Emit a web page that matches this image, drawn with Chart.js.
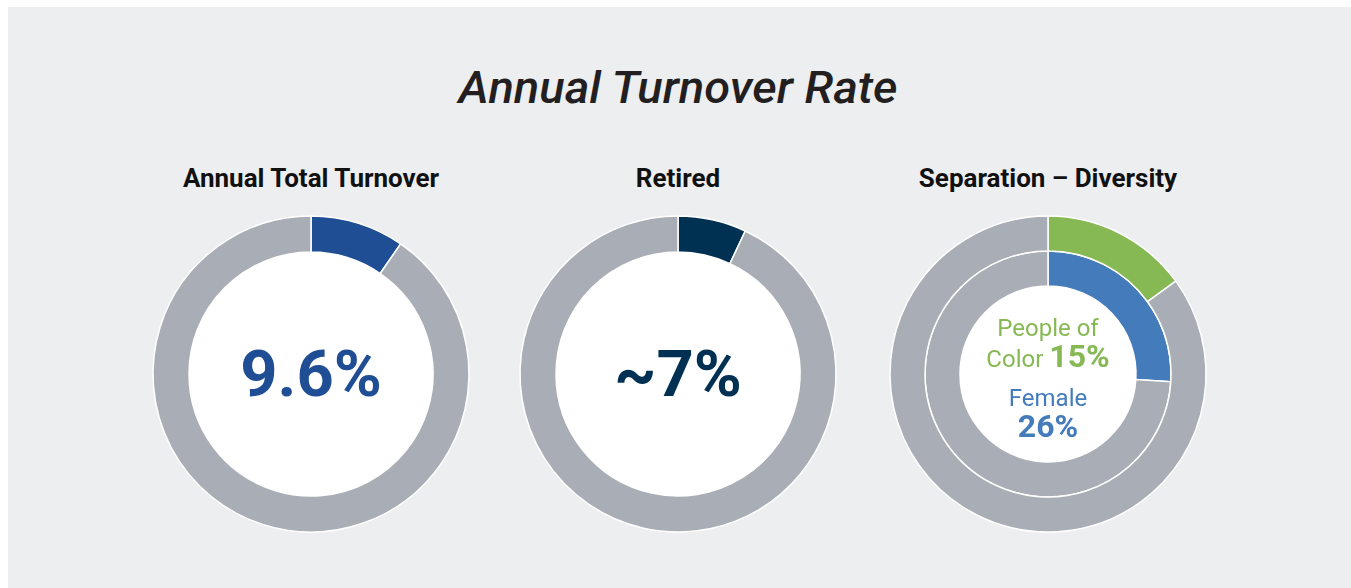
<!DOCTYPE html>
<html>
<head>
<meta charset="utf-8">
<script src="https://cdn.jsdelivr.net/npm/chart.js@4/dist/chart.umd.min.js"></script>
<style>
  html, body { margin: 0; padding: 0; background: #ffffff; }
  body { width: 1351px; height: 588px; position: relative; overflow: hidden; font-family: Roboto, "Noto Sans", sans-serif; }
  #panel { position: absolute; left: 8px; top: 7px; width: 1343px; height: 581px; background: #edeef0; }
  .abs { position: absolute; white-space: nowrap; line-height: 1; }
  .ctr { transform: translateX(-50%); text-align: center; }
  canvas.donut { position: absolute; }
  #title { left: 678px; top: 66px; font-size: 44px; font-style: italic; font-weight: 500; color: #231f20;
           transform: translateX(-50%) scaleX(1.07); }
  .sub { top: 165px; font-size: 26px; font-weight: 700; color: #111111; }
  .big { top: 342px; font-size: 65px; font-weight: 700; }
</style>
</head>
<body>
<div id="panel"></div>
<div id="title" class="abs">Annual Turnover Rate</div>

<div class="abs ctr sub" style="left:311px">Annual Total Turnover</div>
<div class="abs ctr sub" style="left:678px">Retired</div>
<div class="abs ctr sub" style="left:1048px">Separation – Diversity</div>

<canvas id="c1" class="donut" width="340" height="340" style="left:141px;top:204px"></canvas>
<canvas id="c2" class="donut" width="340" height="340" style="left:508px;top:204px"></canvas>
<canvas id="c3" class="donut" width="340" height="340" style="left:878px;top:204px"></canvas>

<div id="v1" class="abs ctr big" style="left:311px;color:#1f4e94"></div>
<div id="v2" class="abs ctr big" style="left:678px;color:#003153"></div>

<div class="abs ctr" style="left:1048px;top:315.8px;font-size:24px;color:#86b854">People of</div>
<div class="abs ctr" style="left:1048px;top:340.1px;font-size:32px;line-height:32px;color:#86b854"><span style="font-size:24px">Color </span><b id="v3"></b></div>
<div class="abs ctr" style="left:1048px;top:385.8px;font-size:24px;color:#437bbb">Female</div>
<div id="v4" class="abs ctr" style="left:1048px;top:410.1px;font-size:32px;font-weight:700;color:#437bbb"></div>

<script>
// Shares shown in each ring (percent of workforce)
const totalTurnover = [9.6];
const retired = [7];
const peopleOfColor = [15];
const female = [26];
const valueLabels = ['9.6%', '~7%', '15%', '26%'];

const GRAY = '#a9adb5';
const rest = v => 100 - v;

document.getElementById('v1').textContent = valueLabels[0];
document.getElementById('v2').textContent = valueLabels[1];
document.getElementById('v3').textContent = valueLabels[2];
document.getElementById('v4').textContent = valueLabels[3];

// Paints the hole of the doughnut white before the rings are drawn
const whiteHole = {
  id: 'whiteHole',
  beforeDatasetsDraw(chart) {
    const metas = chart.getSortedVisibleDatasetMetas();
    const arc = metas[metas.length - 1].data[0];
    if (!arc) return;
    const ctx = chart.ctx;
    ctx.save();
    ctx.beginPath();
    ctx.arc(arc.x, arc.y, arc.innerRadius + 1, 0, Math.PI * 2);
    ctx.fillStyle = '#ffffff';
    ctx.fill();
    ctx.restore();
  }
};

function ringDataset(value, color) {
  return {
    data: [value, rest(value)],
    backgroundColor: [color, GRAY],
    borderColor: '#ffffff',
    borderWidth: 1.5,
    hoverOffset: 0
  };
}

function donut(id, datasets, cutout) {
  return new Chart(document.getElementById(id), {
    type: 'doughnut',
    data: { labels: ['share', 'other'], datasets },
    options: {
      responsive: false,
      animation: false,
      radius: 158,
      cutout: cutout,
      rotation: 0,
      events: [],
      plugins: { legend: { display: false }, tooltip: { enabled: false } }
    },
    plugins: [whiteHole]
  });
}

donut('c1', [ringDataset(totalTurnover[0], '#1f4e94')], '77.2%');
donut('c2', [ringDataset(retired[0], '#003153')], '77.2%');
donut('c3', [
  ringDataset(peopleOfColor[0], '#86b854'),
  ringDataset(female[0], '#437bbb')
], '55.7%');
</script>
</body>
</html>
